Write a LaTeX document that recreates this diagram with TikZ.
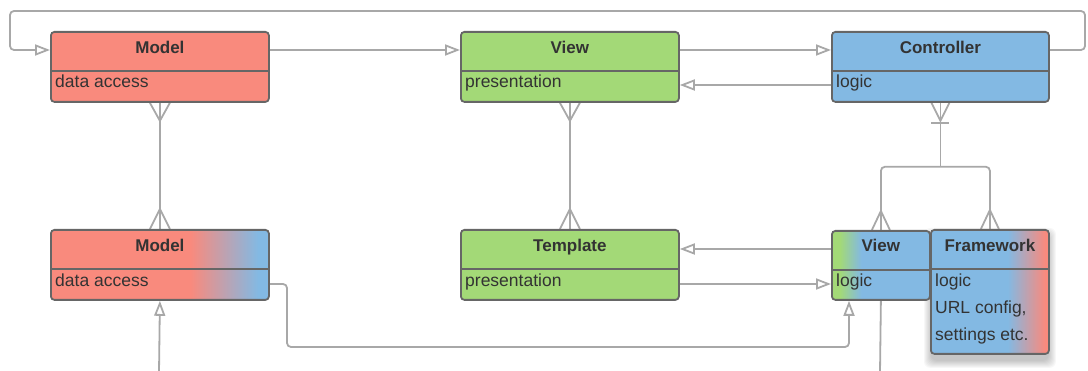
\documentclass[tikz,border=0pt]{standalone}
\usepackage{fontspec}
\setmainfont{Liberation Sans}
\usetikzlibrary{arrows.meta,calc}
\definecolor{cred}{RGB}{249,138,125}
\definecolor{cgreen}{RGB}{163,217,119}
\definecolor{cblue}{RGB}{131,185,227}
\definecolor{cborder}{RGB}{102,102,102}
\definecolor{cline}{RGB}{168,168,168}
\definecolor{ctext}{RGB}{51,51,51}
\pgfdeclarehorizontalshading{gradmodel}{100bp}{color(0bp)=(cred); color(57bp)=(cred); color(72.5bp)=(cblue); color(100bp)=(cblue)}
\pgfdeclarehorizontalshading{gradview}{100bp}{color(0bp)=(cgreen); color(29bp)=(cgreen); color(40bp)=(cblue); color(100bp)=(cblue)}
\pgfdeclarehorizontalshading{gradfw}{100bp}{color(0bp)=(cblue); color(57.5bp)=(cblue); color(73.5bp)=(cred); color(100bp)=(cred)}
\pgfdeclarelayer{background}
\pgfsetlayers{background,main}
\begin{document}
\begin{tikzpicture}[x=1pt,y=-1pt,
  box/.style={draw=cborder, line width=1.8pt, rounded corners=3.5pt, inner sep=0pt, anchor=north west, minimum height=70pt},
  divider/.style={draw=cborder, line width=1.8pt},
  hdr/.style={font=\fontsize{17}{20}\selectfont\bfseries, text=ctext, anchor=base, inner sep=0pt},
  body/.style={font=\fontsize{17.5}{21}\selectfont, text=ctext, anchor=base west, inner sep=0pt},
  conn/.style={draw=cline, line width=1.8pt, rounded corners=4pt},
  foot/.style={draw=cline, line width=1.8pt},
  tri/.style={-{Triangle[open, length=15pt, width=11pt, line width=1.8pt]}}
]
\useasboundingbox (0,0) rectangle (1088,371);

% classes
\node[box, fill=cred, minimum width=218pt] (m1) at (50,31) {};
\node[box, fill=cgreen, minimum width=218pt] (v1) at (460,31) {};
\node[box, fill=cblue, minimum width=217pt] (c1) at (831,31) {};
\node[box, shading=gradmodel, minimum width=218pt] (m2) at (50,229) {};
\node[box, fill=cgreen, minimum width=218pt] (t) at (460,229) {};
\node[box, shading=gradview, minimum width=98pt, minimum height=69pt] (v2) at (831,230) {};
\node[box, shading=gradfw, minimum width=118pt, minimum height=124pt] (f) at (930,229) {};

\foreach \n in {m1,v1,c1,m2,t,f}
  \draw[divider] ($(\n.north west)+(0,40)$) -- ($(\n.north east)+(0,40)$);
\draw[divider] ($(v2.north west)+(0,40)$) -- ($(v2.north east)+(0,40)$);

% texts
\node[hdr] (m1h) at ($(m1.north)+(0,23)$) {Model};
\node[body] (m1b) at ($(m1.north west)+(5,57)$) {data access};
\node[hdr] (v1h) at ($(v1.north)+(0,23)$) {View};
\node[body] (v1b) at ($(v1.north west)+(5,57)$) {presentation};
\node[hdr] (c1h) at ($(c1.north)+(0,23)$) {Controller};
\node[body] (c1b) at ($(c1.north west)+(5,57)$) {logic};
\node[hdr] (m2h) at ($(m2.north)+(0,23)$) {Model};
\node[body] (m2b) at ($(m2.north west)+(5,58)$) {data access};
\node[hdr] (th) at ($(t.north)+(0,23)$) {Template};
\node[body] (tb) at ($(t.north west)+(5,58)$) {presentation};
\node[hdr] (v2h) at ($(v2.north)+(0,22)$) {View};
\node[body] (v2b) at ($(v2.north west)+(5,57)$) {logic};
\node[hdr] (fh) at ($(f.north)+(0,23)$) {Framework};
\node[body] (fb1) at ($(f.north west)+(5,58)$) {logic};
\node[body] (fb2) at ($(f.north west)+(5,85)$) {URL config,};
\node[body] (fb3) at ($(f.north west)+(5,112)$) {settings etc.};

\coordinate (loopR) at (1085,11);
\coordinate (loopL) at (10,11);
\coordinate (bendA) at (287,347);
\coordinate (m2in) at (159,373);
\coordinate (v2out) at (880,373);

\begin{pgfonlayer}{background}
% shadow of framework
\foreach \i in {0,...,7}
  \fill[black, opacity=0.03, rounded corners=6pt]
    ($(f.north west)+(1-\i,6-\i)$) rectangle ($(f.south east)+(\i-1,6+\i)$);

% top row
\draw[conn,tri] ($(c1.north east)+(0,19)$) -| (loopR) -- (loopL) |- ($(m1.north west)+(0,19)$);
\draw[conn,tri] ($(m1.north east)+(0,19)$) -- ($(v1.north west)+(0,19)$);
\draw[conn,tri] ($(v1.north east)+(0,19)$) -- ($(c1.north west)+(0,19)$);
\draw[conn,tri] ($(c1.north west)+(0,54)$) -- ($(v1.north east)+(0,54)$);

% many-to-many
\draw[conn] (m1.south) -- (m2.north);
\draw[foot] ($(m1.south)+(-10,0)$) -- ($(m1.south)+(0,18)$) -- ($(m1.south)+(10,0)$);
\draw[foot] ($(m2.north)+(-10,0)$) -- ($(m2.north)+(0,-20)$) -- ($(m2.north)+(10,0)$);
\draw[conn] (v1.south) -- (t.north);
\draw[foot] ($(v1.south)+(-10,0)$) -- ($(v1.south)+(0,18)$) -- ($(v1.south)+(10,0)$);
\draw[foot] ($(t.north)+(-10,0)$) -- ($(t.north)+(0,-20)$) -- ($(t.north)+(10,0)$);

% controller to view / framework
\draw[conn] (c1.south) -- ($(c1.south)+(0,64)$);
\draw[conn] (v2.north) |- ($(c1.south)+(0,64)$) -| (f.north);
\draw[foot] ($(c1.south)+(-9,0)$) -- ($(c1.south)+(0,18)$) -- ($(c1.south)+(9,0)$);
\draw[foot] ($(c1.south)+(-9,20)$) -- ($(c1.south)+(9,20)$);
\draw[foot] ($(v2.north)+(-9,0)$) -- ($(v2.north)+(0,-19)$) -- ($(v2.north)+(9,0)$);
\draw[foot] ($(f.north)+(-9,0)$) -- ($(f.north)+(0,-19)$) -- ($(f.north)+(9,0)$);

% bottom row
\draw[conn,tri] ($(v2.north west)+(0,19)$) -- ($(t.north east)+(0,20)$);
\draw[conn,tri] ($(t.north east)+(0,55)$) -- ($(v2.north west)+(0,54)$);
\draw[conn,tri] ($(m2.north east)+(0,55)$) -| (bendA) -| ($(v2.south west)+(18,0)$);
\draw[conn,tri] (m2in) -- (m2.south);
\draw[conn] (v2.south) -- (v2out);
\end{pgfonlayer}
\end{tikzpicture}
\end{document}
